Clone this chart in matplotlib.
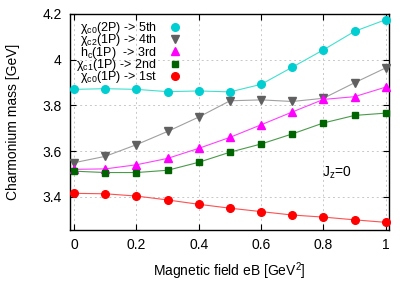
import matplotlib
matplotlib.use("Agg")
import matplotlib.pyplot as plt

plt.rcParams['font.family'] = ['Liberation Sans', 'DejaVu Sans']
plt.rcParams['mathtext.fontset'] = 'custom'
plt.rcParams['mathtext.rm'] = 'Liberation Sans'
plt.rcParams['mathtext.it'] = 'Liberation Sans:italic'

eB = [0.0, 0.1, 0.2, 0.3, 0.4, 0.5, 0.6, 0.7, 0.8, 0.9, 1.0]
chi_c0_2P = [3.870, 3.873, 3.870, 3.860, 3.863, 3.859, 3.892, 3.967, 4.043, 4.124, 4.175]
chi_c2_1P = [3.549, 3.577, 3.628, 3.686, 3.749, 3.820, 3.824, 3.817, 3.831, 3.899, 3.964]
h_c_1P = [3.520, 3.522, 3.540, 3.568, 3.612, 3.660, 3.715, 3.771, 3.826, 3.838, 3.880]
chi_c1_1P = [3.512, 3.506, 3.506, 3.516, 3.551, 3.595, 3.631, 3.675, 3.723, 3.756, 3.766]
chi_c0_1P = [3.415, 3.413, 3.403, 3.386, 3.367, 3.350, 3.335, 3.320, 3.311, 3.299, 3.288]

labels = [r'χ$_{\mathrm{c0}}$(2P) -> 5th', r'χ$_{\mathrm{c2}}$(1P) -> 4th',
          r'h$_{\mathrm{c}}$(1P)  -> 3rd', r'χ$_{\mathrm{c1}}$(1P) -> 2nd',
          r'χ$_{\mathrm{c0}}$(1P) -> 1st']

fig = plt.figure(figsize=(4.15, 2.91), dpi=100)
ax = fig.add_axes([0.169, 0.21, 0.768, 0.742])

series = [chi_c0_2P, chi_c2_1P, h_c_1P, chi_c1_1P, chi_c0_1P]
mcol = ['#00CED1', '#606060', '#FF00FF', '#006400', '#FF0000']
lcol = ['#40E0D0', '#a0a0a0', '#FF40FF', '#4a9a4a', '#FF5050']
mk = ['o', 'v', '^', 's', 'o']
ms = [5.5, 6, 6, 5, 5.5]

handles = []
for y, mc, lc, m, s, lab in zip(series, mcol, lcol, mk, ms, labels):
    ax.plot(eB, y, color=lc, lw=0.8, zorder=2)
    h, = ax.plot(eB, y, linestyle='none', marker=m, ms=s, color=mc,
                 markeredgecolor=mc, label=lab, zorder=3, clip_on=False)
    handles.append(h)

ax.set_xlim(-0.013, 1.01)
ax.set_ylim(3.255, 4.2)
ax.set_xticks([0, 0.2, 0.4, 0.6, 0.8, 1])
ax.set_xticklabels(['0', '0.2', '0.4', '0.6', '0.8', '1'])
ax.set_yticks([3.4, 3.6, 3.8, 4.0, 4.2])
ax.set_yticklabels(['3.4', '3.6', '3.8', '4', '4.2'])
ax.tick_params(direction='in', top=True, right=True, labelsize=10, length=4, pad=6)
ax.grid(True, color='#c8c8c8', linestyle=(0, (2, 3)), lw=0.7)
for sp in ax.spines.values():
    sp.set_linewidth(1.0)

ax.set_xlabel(r'Magnetic field eB [GeV$^{2}$]', fontsize=10, labelpad=6)
ax.set_ylabel('Charmonium mass [GeV]', fontsize=10, labelpad=16)
ax.text(0.842, 3.506, r'J$_{\mathrm{z}}$=0', fontsize=10, ha='center', va='center')

ax.legend(handles=handles, loc='upper left', bbox_to_anchor=(0.0, 1.0),
          frameon=False, markerfirst=False, fontsize=9, handlelength=1.0,
          handletextpad=1.0, labelspacing=-0.3, borderaxespad=0.1)

fig.savefig('out.png', dpi=100)
